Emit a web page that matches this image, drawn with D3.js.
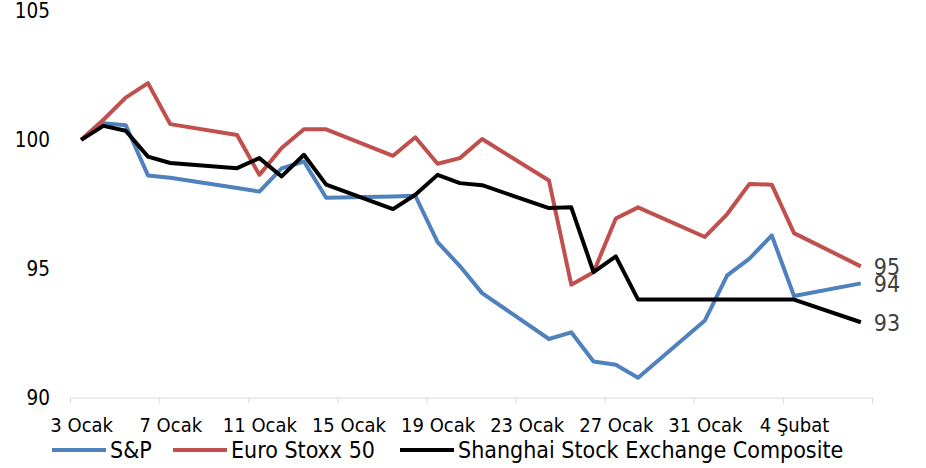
<!DOCTYPE html>
<html>
<head>
<meta charset="utf-8">
<script src="https://cdn.jsdelivr.net/npm/d3@7"></script>
<style>
  body { margin: 0; background: #fff; }
  svg text { font-family: "DejaVu Sans Condensed", "DejaVu Sans", sans-serif; font-stretch: condensed; }
</style>
</head>
<body>
<script>
// trading days (2022), one value per day for each index
var dates = ["2022-01-03","2022-01-04","2022-01-05","2022-01-06","2022-01-07",
  "2022-01-10","2022-01-11","2022-01-12","2022-01-13","2022-01-14",
  "2022-01-17","2022-01-18","2022-01-19","2022-01-20","2022-01-21",
  "2022-01-24","2022-01-25","2022-01-26","2022-01-27","2022-01-28",
  "2022-01-31","2022-02-01","2022-02-02","2022-02-03","2022-02-04","2022-02-07"]

var sp = [100, 100.64, 100.57, 98.62, 98.53,
  98.13, 97.99, 98.89, 99.16, 97.75,
  97.8, 97.83, 96.03, 95.10, 94.05,
  92.27, 92.53, 91.40, 91.27, 90.77,
  92.99, 94.74, 95.39, 96.29, 93.94, 94.43]

var euro = [100, 100.78, 101.64, 102.2, 100.61,
  100.19, 98.64, 99.68, 100.41, 100.41,
  99.38, 100.1, 99.07, 99.29, 100.03,
  98.42, 94.38, 94.86, 96.95, 97.38,
  96.23, 97.12, 98.29, 98.26, 96.38, 95.09]

var shanghai = [100, 100.54, 100.35, 99.35, 99.1,
  98.9, 99.29, 98.58, 99.42, 98.26,
  97.31, 97.87, 98.64, 98.32, 98.24,
  97.35, 97.38, 94.87, 95.48, 93.8,
  93.8, 93.8, 93.8, 93.8, 93.8, 92.92]

var seriesNames = ["S&P", "Euro Stoxx 50", "Shanghai Stock Exchange Composite"]
var seriesColors = ["#4f81bd", "#c0504d", "#000000"]

var tickDates = ["2022-01-03","2022-01-07","2022-01-11","2022-01-15","2022-01-19",
  "2022-01-23","2022-01-27","2022-01-31","2022-02-04","2022-02-08"]
var tickLabels = ["3 Ocak","7 Ocak","11 Ocak","15 Ocak","19 Ocak","23 Ocak","27 Ocak","31 Ocak","4 Şubat",""]
var yTicks = [90, 95, 100, 105]

var width = 926, height = 468
var parse = d3.utcParse("%Y-%m-%d")
var mid = function(d){ return d3.utcHour.offset(parse(d), 12) } // points sit in the middle of the day

var svg = d3.select("body").append("svg")
  .attr("width", width)
  .attr("height", height)

var x = d3.scaleUtc()
  .domain([parse("2022-01-03"), parse("2022-02-08")])
  .range([70, 872])

var y = d3.scaleLinear()
  .domain([90, 105])
  .range([397.5, 11])

// y axis, labels only
var yAxis = svg.append("g")
  .attr("transform", "translate(50,0)")
  .call(d3.axisLeft(y).tickValues(yTicks).tickSize(0).tickPadding(0))
yAxis.select(".domain").remove()
yAxis.selectAll("text")
  .style("font-size", "20.5px")
  .attr("fill", "#000")

// x axis
var xAxis = svg.append("g")
  .attr("transform", "translate(0,397.5)")
  .call(d3.axisBottom(x)
    .tickValues(tickDates.map(parse))
    .tickSizeInner(6)
    .tickSizeOuter(0)
    .tickFormat(function(d, i){ return tickLabels[i] }))
xAxis.select(".domain").attr("stroke", "#d9d9d9")
xAxis.selectAll(".tick line").attr("stroke", "#d9d9d9")
xAxis.selectAll(".tick text")
  .attr("x", x(mid("2022-01-03")) - x(parse("2022-01-03")))
  .attr("y", 0)
  .attr("dy", "34px")
  .style("font-size", "20px")
  .attr("fill", "#000")

// lines
var allSeries = [sp, euro, shanghai]
var line = d3.line()
  .x(function(d){ return x(mid(d.date)) })
  .y(function(d){ return y(d.value) })

allSeries.forEach(function(vals, k){
  var pts = dates.map(function(d, i){ return {date: d, value: vals[i]} })
  svg.append("path")
    .datum(pts)
    .attr("fill", "none")
    .attr("stroke", seriesColors[k])
    .attr("stroke-width", 4)
    .attr("stroke-linejoin", "round")
    .attr("d", line)

  // end label
  var last = pts[pts.length - 1]
  svg.append("text")
    .attr("x", x(mid(last.date)) + 13)
    .attr("y", y(last.value))
    .attr("dy", "0.37em")
    .style("font-size", "23px")
    .attr("fill", "#404040")
    .text(Math.round(last.value))
})

// legend
var legendX = [52, 173, 400]
var legend = svg.append("g").attr("class", "legend")
seriesNames.forEach(function(name, k){
  legend.append("line")
    .attr("x1", legendX[k]).attr("x2", legendX[k] + 54)
    .attr("y1", 450).attr("y2", 450)
    .attr("stroke", seriesColors[k])
    .attr("stroke-width", 4)
  legend.append("text")
    .attr("x", legendX[k] + 58)
    .attr("y", 458)
    .style("font-size", "23px")
    .attr("fill", "#000")
    .text(name)
})
</script>
</body>
</html>
